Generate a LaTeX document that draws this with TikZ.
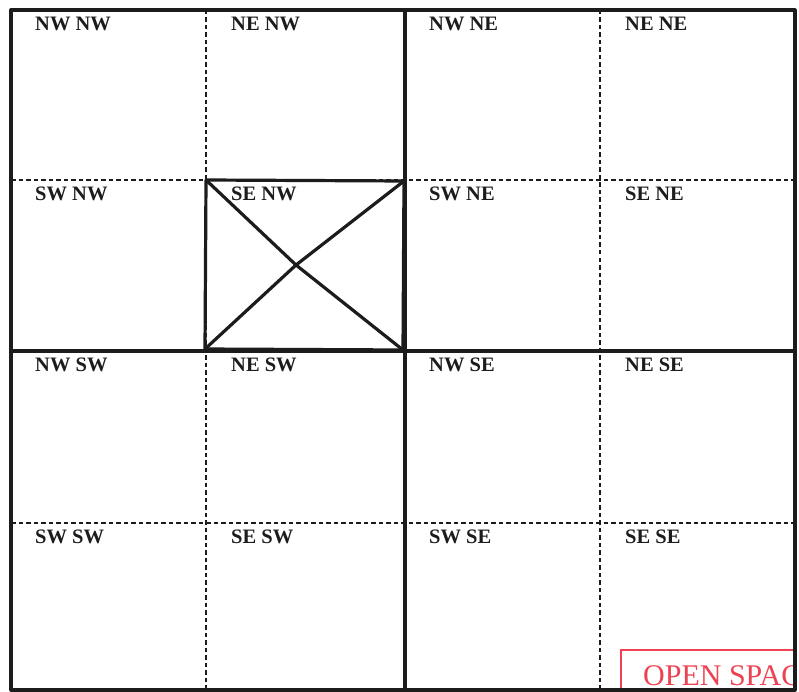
\documentclass[tikz,border=0pt]{standalone}
\usepackage{xcolor}
\usepackage{fontspec}
\setmainfont{Liberation Serif}
\usepackage{tikz}
\usetikzlibrary{calc}
\definecolor{PlanInk}{HTML}{1C1C1C}
\definecolor{PlanRed}{HTML}{EE4252}
\begin{document}
\begin{tikzpicture}[x=1pt,y=-1pt,
  quarter/.style={PlanInk,line width=3.2pt,line join=round},
  split/.style={PlanInk,line width=1.6pt,dash pattern=on 4.5pt off 3pt},
  tract/.style={anchor=north west,inner sep=0pt,PlanInk,font=\fontsize{20.5}{20.5}\selectfont\bfseries}]
  \useasboundingbox (0,0) rectangle (799,692);
  % open space stamp, cut off by the section line
  \begin{scope}
    \clip (0,0) rectangle (794,692);
    \draw[PlanRed,line width=2.6pt] (621,700) -- (621,650) -- (810,650);
    \node[anchor=base west,inner sep=0pt,PlanRed,font=\fontsize{30}{30}\selectfont] (openspace) at (643,685) {OPEN SPACE};
  \end{scope}
  % quarter-quarter lines
  \draw[split] (206,10) -- (206,690);
  \draw[split] (600,10) -- (600,690);
  \draw[split] (11,180) -- (795,180);
  \draw[split] (11,523) -- (795,523);
  % quarter lines and section line
  \draw[quarter] (405,10) -- (405,690);
  \draw[quarter] (11,351) -- (795,351);
  \draw[quarter] (11,10) rectangle (795,690);
  % the crossed parcel
  \coordinate (xa) at (206,180);
  \coordinate (xb) at (404,181);
  \coordinate (xc) at (403,350);
  \coordinate (xd) at (205,349);
  \coordinate (xm) at (296,265);
  \draw[quarter] (xa) -- (xb) -- (xc) -- (xd) -- cycle;
  \draw[quarter] (xa) -- (xm) -- (xc);
  \draw[quarter] (xb) -- (xm) -- (xd);
  % tract names
  \node[tract] (nwnw) at (35,17) {NW NW};
  \node[tract] (nenw) at (231,17) {NE NW};
  \node[tract] (nwne) at (429,17) {NW NE};
  \node[tract] (nene) at (625,17) {NE NE};
  \node[tract] (swnw) at (35,187) {SW NW};
  \node[tract] (senw) at (231,187) {SE NW};
  \node[tract] (swne) at (429,187) {SW NE};
  \node[tract] (sene) at (625,187) {SE NE};
  \node[tract] (nwsw) at (35,358) {NW SW};
  \node[tract] (nesw) at (231,358) {NE SW};
  \node[tract] (nwse) at (429,358) {NW SE};
  \node[tract] (nese) at (625,358) {NE SE};
  \node[tract] (swsw) at (35,530) {SW SW};
  \node[tract] (sesw) at (231,530) {SE SW};
  \node[tract] (swse) at (429,530) {SW SE};
  \node[tract] (sese) at (625,530) {SE SE};
\end{tikzpicture}
\end{document}
